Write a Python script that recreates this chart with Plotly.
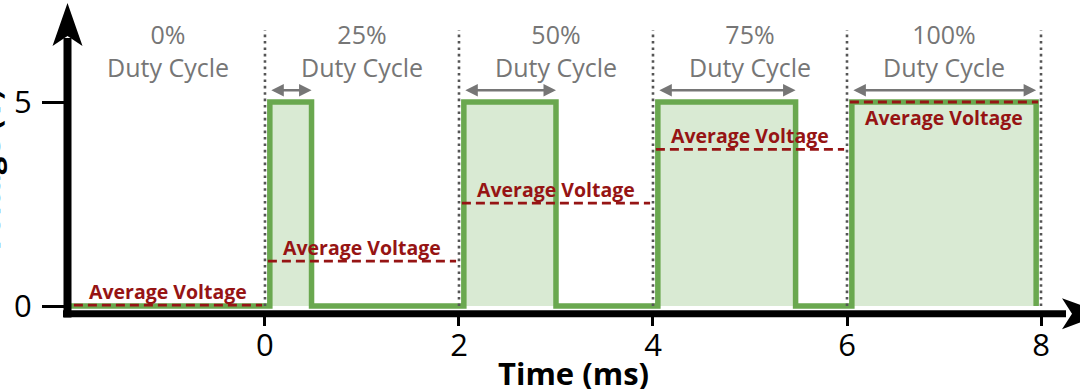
import plotly.graph_objects as go

# ---- data ----
time_ticks = [0, 2, 4, 6, 8]
voltage_ticks = [0, 5]
duty_labels = ["0%", "25%", "50%", "75%", "100%"]
segment_start = [-2.0, 0.0, 2.0, 4.0, 6.0]
segment_end = [0.0, 2.0, 4.0, 6.0, 8.0]
pulse_on = [0.05, 2.05, 4.05, 6.05]
pulse_off = [0.48, 3.0, 5.47, 7.95]
high_voltage = 5.0
avg_voltage = [0.02, 1.1, 2.52, 3.84, 5.0]

GREEN = "#6aa84f"
GREEN_FILL = "#d9ead3"
RED = "#961414"
GRAY = "#767676"
FONT = "Open Sans"

# waveform built from pulse edges
wx, wy = [segment_start[0]], [0.0]
for on, off in zip(pulse_on, pulse_off):
    wx += [on, on, off, off]
    wy += [0.0, high_voltage, high_voltage, 0.0]

fig = go.Figure()

fig.add_trace(go.Scatter(
    x=wx, y=wy, mode="lines", fill="tozeroy", fillcolor=GREEN_FILL,
    line=dict(color=GREEN, width=5.5), hoverinfo="skip", showlegend=False,
    cliponaxis=False,
))

# dotted period boundaries
dx, dy = [], []
for e in segment_end:
    dx += [e, e, None]
    dy += [0.0, 6.76, None]
fig.add_trace(go.Scatter(
    x=dx, y=dy, mode="lines", line=dict(color="#555555", width=2.6, dash="2.6px,3.8px"),
    hoverinfo="skip", showlegend=False, cliponaxis=False,
))

# average voltage dashed lines
ax_, ay_ = [], []
for s, e, v in zip(segment_start, segment_end, avg_voltage):
    ax_ += [s + 0.03, e - 0.03, None]
    ay_ += [v, v, None]
fig.add_trace(go.Scatter(
    x=ax_, y=ay_, mode="lines", line=dict(color=RED, width=2.8, dash="9px,5px"),
    hoverinfo="skip", showlegend=False, cliponaxis=False,
))

annotations = []
for s, e, v, d in zip(segment_start, segment_end, avg_voltage, duty_labels):
    mid = (s + e) / 2
    below = v >= high_voltage
    annotations.append(dict(
        x=mid, y=v, xref="x", yref="y", text="<b>Average Voltage</b>", showarrow=False,
        yshift=-15 if below else 14, font=dict(family=FONT, size=19.5, color=RED),
    ))
    annotations.append(dict(
        x=mid, y=6.27, xref="x", yref="y", text=f"{d}<br>Duty Cycle", showarrow=False,
        font=dict(family=FONT, size=25, color=GRAY),
    ))

for on, off in zip(pulse_on, pulse_off):
    annotations.append(dict(
        x=off, y=5.29, ax=on, ay=5.29, xref="x", yref="y", axref="x", ayref="y",
        text="", showarrow=True, arrowhead=2, arrowside="end+start",
        arrowsize=1.0, arrowwidth=2.5, arrowcolor=GRAY, standoff=0, startstandoff=0,
    ))

annotations.append(dict(
    x=(-12 - 67) / 1013, y=3.28, xref="paper", yref="y", text="<b>Voltage (V)</b>",
    textangle=-90, showarrow=False, xanchor="center", yanchor="middle",
    font=dict(family=FONT, size=31, color="black"),
))

annotations.append(dict(
    x=0.5, y=-60 / 313, xref="paper", yref="paper", text="<b>Time (ms)</b>",
    showarrow=False, xanchor="center", yanchor="middle",
    font=dict(family=FONT, size=31, color="black"),
))

shapes = [
    # x axis line
    dict(type="line", xref="paper", yref="paper", x0=-4 / 1013, x1=(1066 - 67) / 1013,
         y0=-0.7 / 313, y1=-0.7 / 313, line=dict(color="black", width=7)),
    # y axis line
    dict(type="line", xref="paper", yref="paper", x0=0.5 / 1013, x1=0.5 / 1013,
         y0=-4.5 / 313, y1=(313 - 38) / 313, line=dict(color="black", width=8)),
    # y arrowhead
    dict(type="path", xref="paper", yref="paper", xsizemode="pixel", ysizemode="pixel",
         xanchor=0.5 / 1013, yanchor=1, path="M0,-3 L15,-46 L0,-36 L-15,-46 Z",
         fillcolor="black", line=dict(width=0)),
    # x arrowhead
    dict(type="path", xref="paper", yref="paper", xsizemode="pixel", ysizemode="pixel",
         xanchor=1, yanchor=-0.7 / 313, path="M24,0 L-18,15.5 L-8,0 L-18,-15.5 Z",
         fillcolor="black", line=dict(width=0)),
]

fig.update_layout(
    width=1080, height=389,
    margin=dict(l=67, r=0, t=0, b=76),
    paper_bgcolor="white", plot_bgcolor="white",
    showlegend=False,
    annotations=annotations,
    shapes=shapes,
    xaxis=dict(
        range=[-2.041, 8.402], tickvals=time_ticks, ticks="outside", ticklen=12,
        tickwidth=3, tickcolor="black", showgrid=False, zeroline=False, showline=False,
        tickfont=dict(family=FONT, size=31, color="black"), automargin=False,
        ticklabelstandoff=-7, fixedrange=True,
    ),
    yaxis=dict(
        range=[-0.1716, 7.5], tickvals=voltage_ticks, ticks="outside", ticklen=24,
        tickwidth=3, tickcolor="black", showgrid=False, zeroline=False, showline=False,
        tickfont=dict(family=FONT, size=31, color="black"), automargin=False,
        ticklabelstandoff=4, fixedrange=True,
    ),
)

fig.write_html("out.html", post_script="document.body.style.margin='0';",
               config={"displayModeBar": False})
